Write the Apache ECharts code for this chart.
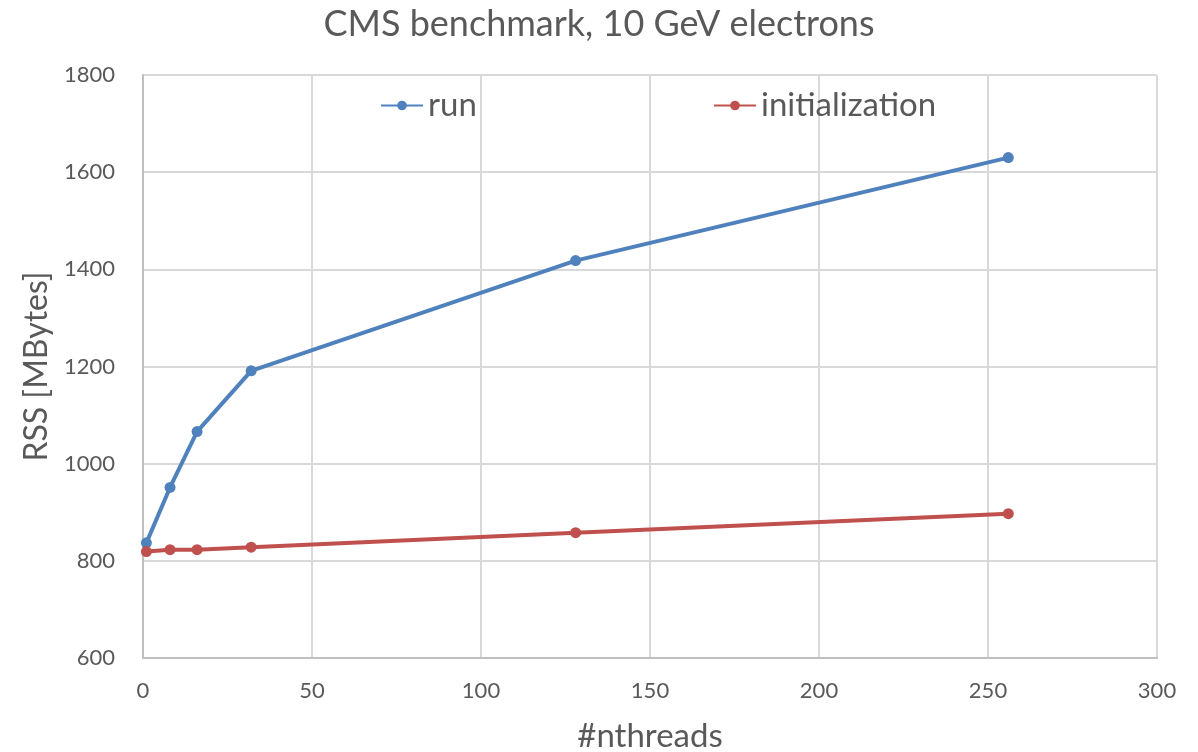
<!DOCTYPE html>
<html>
<head>
<meta charset="utf-8">
<script src="https://cdn.jsdelivr.net/npm/echarts@6/dist/echarts.min.js"></script>
<style>
html,body{margin:0;padding:0;background:#fff;}
#chart{width:1198px;height:752px;}
</style>
</head>
<body>
<div id="chart"></div>
<script>
const threads = [1, 8, 16, 32, 128, 256];
const runValues = [837, 951, 1066, 1191, 1418, 1630];
const initValues = [819, 823, 823, 828, 858, 897];
const xTicks = [0, 50, 100, 150, 200, 250, 300];
const yTicks = [600, 800, 1000, 1200, 1400, 1600, 1800];

const textColor = '#595959';
const font = 'Lato, "Open Sans", sans-serif';

const chart = echarts.init(document.getElementById('chart'));
chart.setOption({
  backgroundColor: '#fff',
  animation: false,
  title: {
    text: 'CMS benchmark, 10 GeV electrons',
    left: 'center',
    top: 1,
    textStyle: {color: textColor, fontSize: 36, fontWeight: 'normal', fontFamily: font}
  },
  legend: [
    {
      data: ['run'], left: 375, top: 84, itemWidth: 42, itemHeight: 12, itemGap: 6,
      textStyle: {color: textColor, fontSize: 33, fontFamily: font}
    },
    {
      data: ['initialization'], left: 708, top: 84, itemWidth: 42, itemHeight: 12,
      textStyle: {color: textColor, fontSize: 33, fontFamily: font}
    }
  ],
  grid: {left: 143, right: 41, top: 75, bottom: 94, containLabel: false, outerBoundsMode: 'none'},
  xAxis: {
    type: 'value', min: xTicks[0], max: xTicks[xTicks.length - 1], interval: 50,
    name: '#nthreads', nameLocation: 'middle', nameGap: 62,
    nameTextStyle: {color: textColor, fontSize: 33, fontFamily: font},
    axisLine: {show: true, lineStyle: {color: '#BFBFBF', width: 2}},
    axisTick: {show: false},
    axisLabel: {color: textColor, fontSize: 22, fontFamily: font, margin: 22},
    splitLine: {show: true, lineStyle: {color: '#D9D9D9', width: 2}}
  },
  yAxis: {
    type: 'value', min: yTicks[0], max: yTicks[yTicks.length - 1], interval: 200,
    name: 'RSS [MBytes]', nameLocation: 'middle', nameGap: 88, nameRotate: 90,
    nameTextStyle: {color: textColor, fontSize: 32, fontFamily: font},
    axisLine: {show: true, lineStyle: {color: '#BFBFBF', width: 2}},
    axisTick: {show: false},
    axisLabel: {color: textColor, fontSize: 22, fontFamily: font, margin: 28, formatter: v => String(v)},
    splitLine: {show: true, lineStyle: {color: '#D9D9D9', width: 2}}
  },
  series: [
    {
      name: 'run', type: 'line',
      data: threads.map((t, i) => [t, runValues[i]]),
      symbol: 'circle', symbolSize: 11,
      itemStyle: {color: '#4F81BD'},
      lineStyle: {color: '#4F81BD', width: 4}
    },
    {
      name: 'initialization', type: 'line',
      data: threads.map((t, i) => [t, initValues[i]]),
      symbol: 'circle', symbolSize: 11,
      itemStyle: {color: '#C0504D'},
      lineStyle: {color: '#C0504D', width: 4}
    }
  ]
});
</script>
</body>
</html>
